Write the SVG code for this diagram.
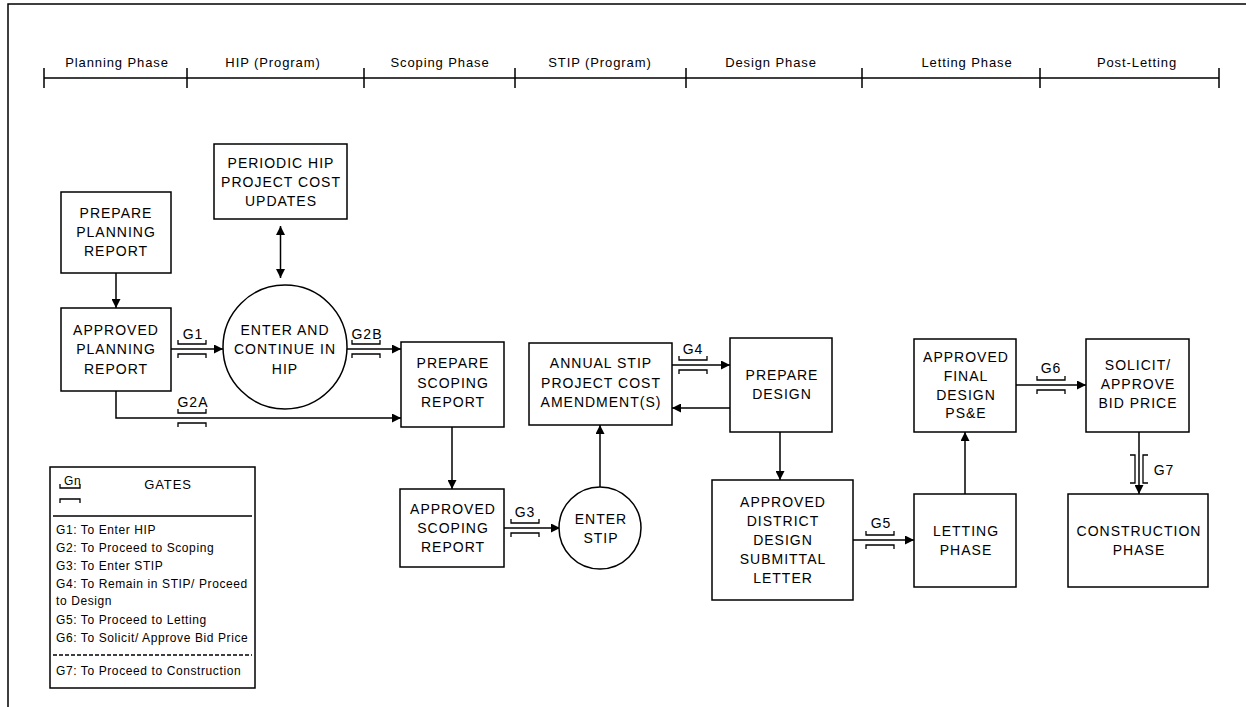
<svg xmlns="http://www.w3.org/2000/svg" width="1246" height="707" viewBox="0 0 1246 707">
<defs>
<style>
.b{fill:#fff;stroke:#000;stroke-width:1.5}
.l{fill:none;stroke:#000;stroke-width:1.5}
.g{fill:none;stroke:#000;stroke-width:1.3}
.t{font-family:"Liberation Sans",Arial,sans-serif;font-size:14px;letter-spacing:1px;text-anchor:middle;fill:#000}
.h{font-family:"Liberation Sans",Arial,sans-serif;font-size:13px;letter-spacing:0.9px;text-anchor:middle;fill:#000}
.s{font-family:"Liberation Sans",Arial,sans-serif;font-size:12px;letter-spacing:0.6px;fill:#000}
.a{marker-end:url(#ar)}
</style>
<marker id="ar" viewBox="0 0 10 10" refX="10" refY="5" markerWidth="10" markerHeight="9" markerUnits="userSpaceOnUse" orient="auto-start-reverse">
<path d="M0,0 L10,5 L0,10 z" fill="#000"/>
</marker>
<g id="gh"><path class="g" d="M0,-9V-5H28V-9M0,9V5H28V9"/></g>
</defs>
<rect width="1246" height="707" fill="#fff"/>
<path class="l" d="M8,707V4H1246"/>
<g id="timeline">
<path class="l" d="M44,78H1219M44,68V88M187,68V88M364,68V88M515,68V88M686,68V88M862,68V88M1040,68V88M1219,68V88"/>
<text class="h" x="117" y="67">Planning Phase</text>
<text class="h" x="273" y="67">HIP (Program)</text>
<text class="h" x="440" y="67">Scoping Phase</text>
<text class="h" x="600" y="67">STIP (Program)</text>
<text class="h" x="771" y="67">Design Phase</text>
<text class="h" x="967" y="67">Letting Phase</text>
<text class="h" x="1137" y="67">Post-Letting</text>
</g>
<g id="connectors">
<path class="l a" d="M116,273V308"/>
<path class="l" d="M280.5,226V278" marker-start="url(#ar)" marker-end="url(#ar)"/>
<path class="l a" d="M170,349H223"/>
<use href="#gh" x="178" y="349"/>
<text class="t" x="193" y="339">G1</text>
<path class="l a" d="M347,349H401"/>
<use href="#gh" x="352" y="349"/>
<text class="t" x="367" y="339">G2B</text>
<path class="l a" d="M116,391V418H401"/>
<use href="#gh" x="178" y="418"/>
<text class="t" x="193" y="407">G2A</text>
<path class="l a" d="M452,427V489"/>
<path class="l a" d="M503,528H560"/>
<use href="#gh" x="511" y="528"/>
<text class="t" x="525" y="517">G3</text>
<path class="l a" d="M600,487V425"/>
<path class="l a" d="M672,365H730"/>
<use href="#gh" x="679" y="365"/>
<text class="t" x="693" y="354">G4</text>
<path class="l a" d="M730,408H672"/>
<path class="l a" d="M780,432V480"/>
<path class="l a" d="M853,540H914"/>
<use href="#gh" x="866" y="540"/>
<text class="t" x="881" y="528">G5</text>
<path class="l a" d="M965,494V432"/>
<path class="l a" d="M1016,385H1086"/>
<use href="#gh" x="1037" y="385"/>
<text class="t" x="1051" y="373">G6</text>
<path class="l a" d="M1139,432V494"/>
<path class="g" d="M1130,455H1135V483H1130M1148,455H1143V483H1148"/>
<text class="t" x="1164" y="475">G7</text>
</g>
<g id="prepare-planning"><rect class="b" x="61" y="192" width="110" height="81"/>
<text class="t" x="116" y="218">PREPARE</text><text class="t" x="116" y="237">PLANNING</text><text class="t" x="116" y="256">REPORT</text></g>
<g id="approved-planning"><rect class="b" x="61" y="308" width="110" height="83"/>
<text class="t" x="116" y="335">APPROVED</text><text class="t" x="116" y="354">PLANNING</text><text class="t" x="116" y="374">REPORT</text></g>
<g id="periodic-hip"><rect class="b" x="214" y="144" width="133" height="75"/>
<text class="t" x="281" y="168">PERIODIC HIP</text><text class="t" x="281" y="187">PROJECT COST</text><text class="t" x="281" y="206">UPDATES</text></g>
<g id="enter-hip"><circle class="b" cx="285" cy="347" r="62"/>
<text class="t" x="285" y="335">ENTER AND</text><text class="t" x="285" y="354">CONTINUE IN</text><text class="t" x="285" y="374">HIP</text></g>
<g id="prepare-scoping"><rect class="b" x="401" y="342" width="103" height="85"/>
<text class="t" x="453" y="368">PREPARE</text><text class="t" x="453" y="388">SCOPING</text><text class="t" x="453" y="407">REPORT</text></g>
<g id="approved-scoping"><rect class="b" x="400" y="489" width="104" height="78"/>
<text class="t" x="453" y="514">APPROVED</text><text class="t" x="453" y="533">SCOPING</text><text class="t" x="453" y="552">REPORT</text></g>
<g id="enter-stip"><circle class="b" cx="600" cy="528" r="41"/>
<text class="t" x="601" y="524">ENTER</text><text class="t" x="601" y="543">STIP</text></g>
<g id="annual-stip"><rect class="b" x="529" y="343" width="143" height="82"/>
<text class="t" x="601" y="368">ANNUAL STIP</text><text class="t" x="601" y="388">PROJECT COST</text><text class="t" x="601" y="407">AMENDMENT(S)</text></g>
<g id="prepare-design"><rect class="b" x="730" y="338" width="102" height="94"/>
<text class="t" x="782" y="380">PREPARE</text><text class="t" x="782" y="399">DESIGN</text></g>
<g id="approved-district"><rect class="b" x="712" y="480" width="141" height="120"/>
<text class="t" x="783" y="507">APPROVED</text><text class="t" x="783" y="526">DISTRICT</text><text class="t" x="783" y="545">DESIGN</text><text class="t" x="783" y="564">SUBMITTAL</text><text class="t" x="783" y="583">LETTER</text></g>
<g id="letting-phase"><rect class="b" x="914" y="494" width="102" height="93"/>
<text class="t" x="966" y="536">LETTING</text><text class="t" x="966" y="555">PHASE</text></g>
<g id="approved-final"><rect class="b" x="914" y="339" width="102" height="93"/>
<text class="t" x="966" y="362">APPROVED</text><text class="t" x="966" y="381">FINAL</text><text class="t" x="966" y="400">DESIGN</text><text class="t" x="966" y="418">PS&amp;E</text></g>
<g id="solicit"><rect class="b" x="1086" y="339" width="103" height="93"/>
<text class="t" x="1138" y="370">SOLICIT/</text><text class="t" x="1138" y="389">APPROVE</text><text class="t" x="1138" y="408">BID PRICE</text></g>
<g id="construction"><rect class="b" x="1068" y="494" width="140" height="93"/>
<text class="t" x="1139" y="536">CONSTRUCTION</text><text class="t" x="1139" y="555">PHASE</text></g>
<g id="legend"><rect class="b" x="50" y="467" width="205" height="221"/>
<text class="s" x="64" y="485">Gn</text>
<path class="g" d="M60,484V488H80V484M60,503V499H80V503"/>
<text class="h" x="168" y="489">GATES</text>
<path class="l" d="M53,516H252"/>
<text class="s" x="56" y="534">G1: To Enter HIP</text>
<text class="s" x="56" y="552">G2: To Proceed to Scoping</text>
<text class="s" x="56" y="570">G3: To Enter STIP</text>
<text class="s" x="56" y="588">G4: To Remain in STIP/ Proceed</text>
<text class="s" x="56" y="605">to Design</text>
<text class="s" x="56" y="624">G5: To Proceed to Letting</text>
<text class="s" x="56" y="642">G6: To Solicit/ Approve Bid Price</text>
<path class="g" d="M53,655H252" stroke-dasharray="4,2"/>
<text class="s" x="56" y="675">G7: To Proceed to Construction</text>
</g>
</svg>
